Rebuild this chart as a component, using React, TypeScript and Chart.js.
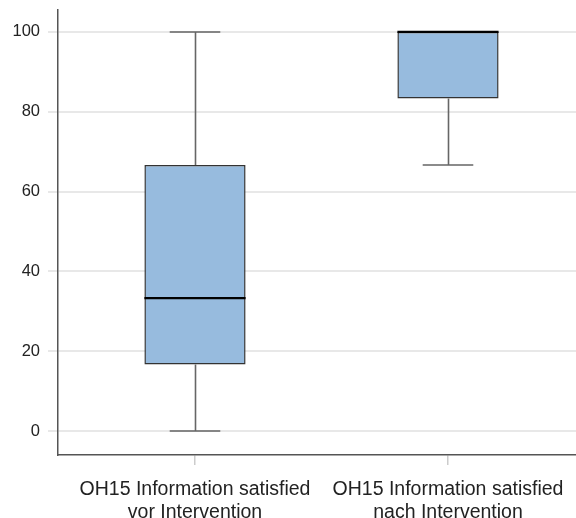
import React, { useEffect, useRef } from "react";
import { Chart, registerables } from "chart.js";

Chart.register(...registerables);

const categories = [
  ["OH15 Information satisfied", "vor Intervention"],
  ["OH15 Information satisfied", "nach Intervention"],
];
const positions = [0, 1];
const mins = [0, 66.67];
const q1s = [16.67, 83.33];
const medians = [33.33, 100];
const q3s = [66.67, 100];
const maxs = [100, 100];
const yTicks = [0, 20, 40, 60, 80, 100];

const whiskerPlugin = {
  id: "whiskers",
  afterDatasetsDraw(chart: any) {
    const xs = chart.scales.x;
    const ys = chart.scales.y;
    const ctx = chart.ctx;
    ctx.save();
    positions.forEach((p, i) => {
      const cx = Math.round(xs.getPixelForValue(p)) + 0.5;
      const capL = xs.getPixelForValue(p - 0.1);
      const capR = xs.getPixelForValue(p + 0.1);
      const boxL = xs.getPixelForValue(p - 0.2);
      const boxR = xs.getPixelForValue(p + 0.2);
      ctx.strokeStyle = "#666666";
      ctx.lineWidth = 1.6;
      ctx.beginPath();
      if (maxs[i] > q3s[i]) {
        ctx.moveTo(cx, ys.getPixelForValue(q3s[i]));
        ctx.lineTo(cx, ys.getPixelForValue(maxs[i]));
      }
      if (mins[i] < q1s[i]) {
        ctx.moveTo(cx, ys.getPixelForValue(q1s[i]));
        ctx.lineTo(cx, ys.getPixelForValue(mins[i]));
      }
      ctx.moveTo(capL, ys.getPixelForValue(maxs[i]));
      ctx.lineTo(capR, ys.getPixelForValue(maxs[i]));
      ctx.moveTo(capL, ys.getPixelForValue(mins[i]));
      ctx.lineTo(capR, ys.getPixelForValue(mins[i]));
      ctx.stroke();
      ctx.strokeStyle = "#000000";
      ctx.lineWidth = 2.2;
      ctx.beginPath();
      ctx.moveTo(boxL, ys.getPixelForValue(medians[i]));
      ctx.lineTo(boxR, ys.getPixelForValue(medians[i]));
      ctx.stroke();
    });
    ctx.restore();
  },
};

export default function App() {
  const ref = useRef<HTMLCanvasElement | null>(null);
  useEffect(() => {
    if (!ref.current) return;
    const chart = new Chart(ref.current, {
      type: "bar",
      data: {
        datasets: [
          {
            data: positions.map((p, i) => ({ x: p, y: [q1s[i], q3s[i]] })) as any,
            backgroundColor: "#97bbde",
            borderColor: "#333333",
            borderWidth: 1.5,
            borderSkipped: false,
            categoryPercentage: 1,
            barPercentage: 0.4,
          },
        ],
      },
      options: {
        animation: false,
        responsive: true,
        maintainAspectRatio: false,
        layout: { padding: { top: 10, right: 0, left: 0, bottom: 0 } },
        plugins: { legend: { display: false }, tooltip: { enabled: false } },
        scales: {
          x: {
            type: "linear",
            offset: false,
            min: -0.5415,
            max: 1.506,
            afterBuildTicks: (s: any) => {
              s.ticks = positions.map((v) => ({ value: v }));
            },
            afterFit: (s: any) => {
              s.height = 63;
              s.paddingLeft = 0;
              s.paddingRight = 0;
            },
            grid: {
              display: true,
              offset: false,
              drawOnChartArea: false,
              drawTicks: true,
              tickLength: 10,
              color: "#cccccc",
              lineWidth: 1.5,
            },
            border: { display: true, color: "#555555", width: 1.5 },
            ticks: {
              autoSkip: false,
              maxRotation: 0,
              padding: 13,
              color: "#222222",
              font: { family: "Liberation Sans, Arial, sans-serif", size: 19.5, lineHeight: 1.18 },
              callback: (v: any) => {
                const i = positions.indexOf(v);
                return i >= 0 ? categories[i] : "";
              },
            },
          },
          y: {
            type: "linear",
            min: -6,
            max: 105.5,
            afterBuildTicks: (s: any) => {
              s.ticks = yTicks.map((v) => ({ value: v }));
            },
            afterFit: (s: any) => {
              s.width = 58;
              s.paddingTop = 0;
              s.paddingBottom = 0;
            },
            grid: {
              color: "#e8e8e8",
              lineWidth: 2,
              tickLength: 10,
            },
            border: { display: true, color: "#555555", width: 1.5 },
            ticks: {
              padding: 8,
              color: "#222222",
              font: { family: "Liberation Sans, Arial, sans-serif", size: 16.5 },
            },
          },
        },
      },
      plugins: [whiskerPlugin],
    });
    return () => chart.destroy();
  }, []);
  return (
    <div style={{ position: "fixed", left: 0, top: 0, width: 576, height: 518, background: "#fff" }}>
      <canvas ref={ref} />
    </div>
  );
}
